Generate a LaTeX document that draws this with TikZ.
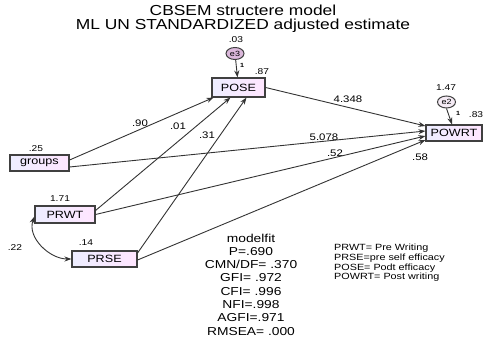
\documentclass[tikz,border=0pt]{standalone}
\usepackage{fontspec}
\setmainfont{Liberation Sans}[FakeStretch=1.2]
\usetikzlibrary{arrows.meta, shapes.geometric}
\tikzset{>={Stealth[length=7pt,width=5pt]}}

\begin{document}
\begin{tikzpicture}[x=1pt, y=1pt,
    obs/.style={draw=black!75, line width=1.1pt, left color=blue!7, right color=magenta!10,
        minimum height=16pt, inner sep=0pt, font=\fontsize{10.5}{10.5}\selectfont},
    err/.style={ellipse, draw=black!75, line width=1pt, minimum width=18pt, minimum height=12pt,
        inner sep=0pt, font=\fontsize{7.5}{7.5}\selectfont},
    num/.style={font=\fontsize{8.5}{8.5}\selectfont, inner sep=1pt},
    coef/.style={font=\fontsize{9.5}{9.5}\selectfont, inner sep=1pt},
    reg/.style={->, draw=black!80, line width=0.9pt}]
    \useasboundingbox (0,0) rectangle (487,343);
    % titles
    \node (title) at (243,333) [font=\fontsize{14.5}{15}\selectfont] {CBSEM structere model};
    \node (subtitle) at (243,317) [font=\fontsize{14.5}{15}\selectfont] {ML UN STANDARDIZED adjusted estimate};
    % observed variables
    \node (pose) at (238.5,255.5) [obs, minimum width=53pt, minimum height=19pt] {POSE};
    \node (powrt) at (454,210) [obs, minimum width=56pt] {POWRT};
    \node (groups) at (39.5,180) [obs, minimum width=59pt] {groups};
    \node (prwt) at (65,128.5) [obs, minimum width=60pt, minimum height=17pt] {PRWT};
    \node (prse) at (104.5,84) [obs, minimum width=65pt] {PRSE};
    % errors
    \node (e3) at (235,289.5) [err, fill=violet!28] {e3};
    \node (e2) at (446.5,241) [err, fill=violet!8] {e2};
    % variances
    \node (v3) at (236,303) [num] {.03};
    \node (v2) at (446,255) [num] {1.47};
    \node (vgroups) at (36,194) [num] {.25};
    \node (vprwt) at (60,144) [num] {1.71};
    \node (vprse) at (86,100) [num] {.14};
    \node (cov) at (15,95) [num] {.22};
    \node (r2pose) at (262,271) [num] {.87};
    \node (r2powrt) at (476,228) [num] {.83};
    \node (w3) at (242,278) [inner sep=0pt, font=\fontsize{6}{6}\bfseries] {1};
    \node (w2) at (458,230) [inner sep=0pt, font=\fontsize{6}{6}\bfseries] {1};
    % paths
    \draw[reg] (e3) -- (pose);
    \draw[reg] (e2.south) -- ([xshift=-2pt]powrt.north);
    \draw[reg] ([yshift=3pt]groups.east) -- ([xshift=-25pt]pose.south);
    \draw[reg] ([yshift=4pt]prwt.east) -- ([xshift=-8pt]pose.south);
    \draw[reg] ([yshift=6pt]prse.east) -- ([xshift=8pt]pose.south);
    \draw[reg] (pose.east) -- ([yshift=7pt]powrt.west);
    \draw[reg] ([yshift=-4pt]groups.east) -- ([yshift=2pt]powrt.west);
    \draw[reg] (prwt.east) -- ([yshift=-3pt]powrt.west);
    \draw[reg] ([yshift=-1pt]prse.east) -- ([yshift=-7pt]powrt.west);
    \draw[<->, draw=black!80, line width=0.9pt] ([yshift=-2pt]prwt.west) to[out=250, in=180] (prse.west);
    % coefficients
    \node (b1) at (140,220) [coef] {.90};
    \node (b2) at (178,217) [coef] {.01};
    \node (b3) at (207,208) [coef] {.31};
    \node (b4) at (348,244) [coef] {4.348};
    \node (b5) at (324,206) [coef] {5.078};
    \node (b6) at (335,190) [coef] {.52};
    \node (b7) at (420,186) [coef] {.58};
    % fit and legend
    \node (fit) at (251,58.5) [align=center, font=\fontsize{11.5}{13.3}\selectfont] {modelfit\\P=.690\\CMN/DF= .370\\GFI= .972\\CFI= .996\\NFI=.998\\AGFI=.971\\RMSEA= .000};
    \node (legend) at (334,80) [anchor=west, align=left, inner sep=0pt, font=\fontsize{9}{9.6}\selectfont] {PRWT= Pre Writing\\PRSE=pre self efficacy\\POSE= Podt efficacy\\POWRT= Post writing};
\end{tikzpicture}
\end{document}
